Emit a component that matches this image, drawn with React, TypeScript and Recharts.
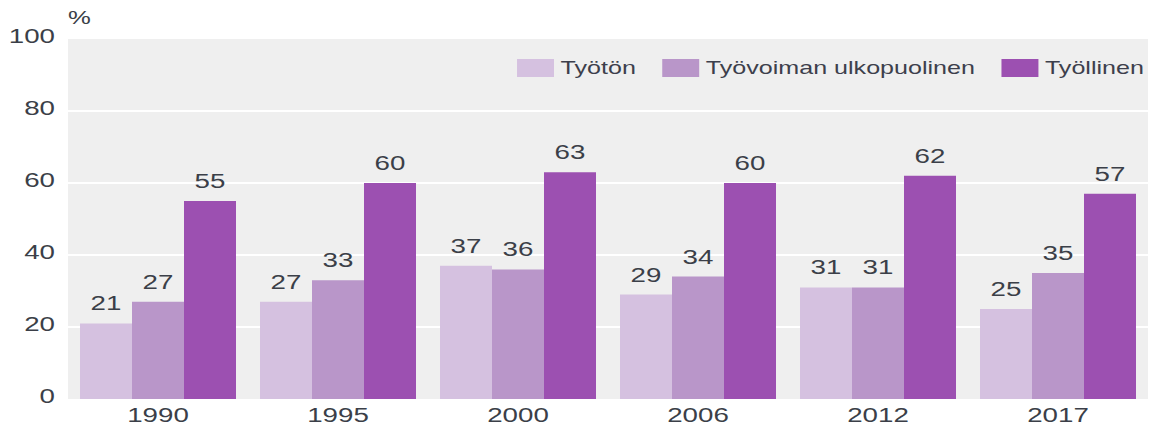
import * as React from "react";
import {
  BarChart,
  Bar,
  XAxis,
  YAxis,
  CartesianGrid,
  LabelList,
} from "recharts";

const years = ["1990", "1995", "2000", "2006", "2012", "2017"];
const tyoton = [21, 27, 37, 29, 31, 25];
const ulkopuolinen = [27, 33, 36, 34, 31, 35];
const tyollinen = [55, 60, 63, 60, 62, 57];
const yTicks = [0, 20, 40, 60, 80, 100];

const SERIES = [
  { key: "tyoton", name: "Työtön", color: "#d5c1e0" },
  { key: "ulkopuolinen", name: "Työvoiman ulkopuolinen", color: "#b996c9" },
  { key: "tyollinen", name: "Työllinen", color: "#9c50b1" },
];

const data = years.map((year, i) => ({
  year,
  tyoton: tyoton[i],
  ulkopuolinen: ulkopuolinen[i],
  tyollinen: tyollinen[i],
}));

const FONT = "'Liberation Sans', Arial, sans-serif";
const TEXT = "#3b3f48";
// the source picture is stretched sideways, text is drawn wider to match
const STRETCH = 1.32;

function WideText({ x, y, anchor, dy, children }: any) {
  return (
    <text
      transform={`translate(${x},${y}) scale(${STRETCH},1)`}
      textAnchor={anchor}
      dy={dy}
      fontFamily={FONT}
      fontSize={21}
      fill={TEXT}
    >
      {children}
    </text>
  );
}

const XTick = (props: any) => (
  <WideText x={props.x} y={props.y} anchor="middle" dy="0.71em">
    {props.payload.value}
  </WideText>
);

const YTick = (props: any) => (
  <WideText x={props.x} y={props.y - 3} anchor="end" dy="0.355em">
    {props.payload.value}
  </WideText>
);

const BarValue = (props: any) => (
  <WideText x={props.x + props.width / 2} y={props.y - 13} anchor="middle">
    {props.value}
  </WideText>
);

function LegendBox() {
  return (
    <div
      style={{
        position: "absolute",
        top: 57,
        right: 11,
        display: "flex",
        alignItems: "center",
        fontFamily: FONT,
        fontSize: 19,
        color: "#3d3f4c",
        lineHeight: "22px",
        transform: `scaleX(${STRETCH})`,
        transformOrigin: "right center",
      }}
    >
      {SERIES.map((s, i) => (
        <div key={s.key} style={{ display: "flex", alignItems: "center", marginLeft: i === 0 ? 0 : 20 }}>
          <span style={{ display: "inline-block", width: 28, height: 18, background: s.color, marginRight: 5 }} />
          <span>{s.name}</span>
        </div>
      ))}
    </div>
  );
}

export default function App() {
  return (
    <div style={{ position: "absolute", left: 0, top: 0, width: 1155, height: 425, background: "#fff" }}>
      <div style={{ position: "absolute", left: 68, top: 7, fontFamily: FONT, fontSize: 19, color: TEXT, transform: "scaleX(1.35)", transformOrigin: "left" }}>%</div>
      <BarChart
        width={1155}
        height={425}
        data={data}
        margin={{ top: 39, right: 7, bottom: 0, left: 0 }}
        barCategoryGap={12}
        barGap={0}
      >
        <CartesianGrid fill="#efefef" stroke="#ffffff" strokeWidth={2} vertical={false} horizontalValues={[20, 40, 60, 80]} />
        <XAxis
          dataKey="year"
          height={26}
          axisLine={false}
          tickLine={false}
          tickSize={0}
          tickMargin={8}
          tick={<XTick />}
        />
        <YAxis
          width={68}
          domain={[0, 100]}
          ticks={yTicks}
          axisLine={false}
          tickLine={false}
          tickSize={0}
          tickMargin={13}
          tick={<YTick />}
        />
        {SERIES.map((s) => (
          <Bar key={s.key} dataKey={s.key} name={s.name} fill={s.color} isAnimationActive={false}>
            <LabelList dataKey={s.key} content={<BarValue />} />
          </Bar>
        ))}
      </BarChart>
      <LegendBox />
    </div>
  );
}
